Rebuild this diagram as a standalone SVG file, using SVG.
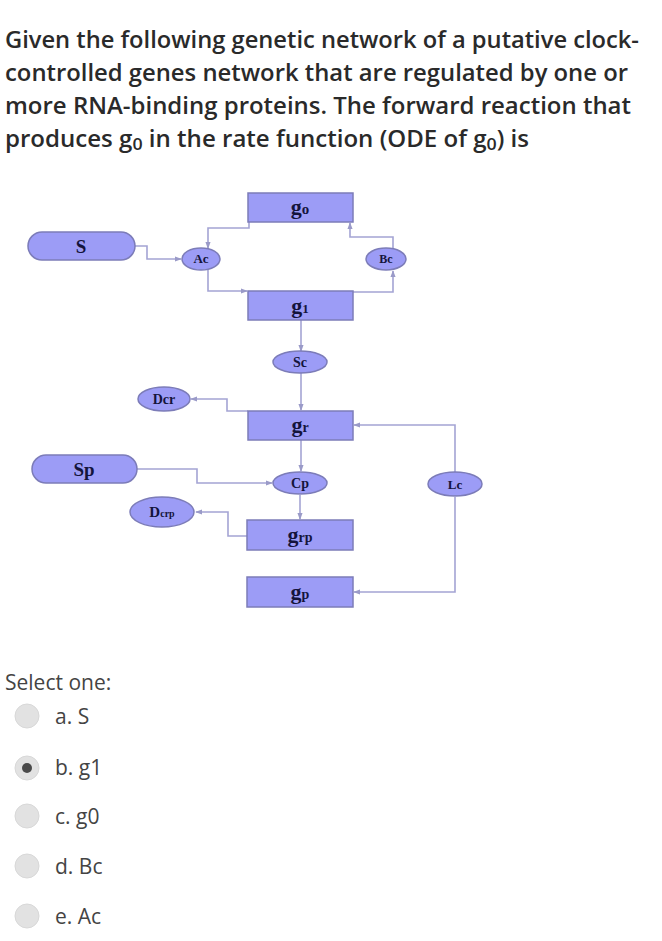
<svg xmlns="http://www.w3.org/2000/svg" width="662" height="941" viewBox="0 0 662 941">
<defs>
<marker id="ar" viewBox="0 0 8 8" refX="7" refY="4" markerWidth="7" markerHeight="7" orient="auto" markerUnits="userSpaceOnUse">
<path d="M0,1 L8,4 L0,7 z" fill="#9a9ac8"/>
</marker>
</defs>
<style>
.q{font-family:"Open Sans","Liberation Sans",sans-serif;font-size:23px;font-weight:600;fill:#2a2a2a}
.o{font-family:"Open Sans","Liberation Sans",sans-serif;font-size:21px;fill:#444}
.n{fill:#9c9cf6;stroke:#7c7cb8;stroke-width:1.5}
.t{font-family:"Liberation Serif","DejaVu Serif",serif;font-weight:bold;fill:#14143c;text-anchor:middle}
.c{fill:none;stroke:#a4a4d4;stroke-width:1.6}
.r{fill:#e2e2e2;stroke:#d8d8d8;stroke-width:1}
</style>
<rect width="662" height="941" fill="#fff"/>
<g id="question">
<text class="q" x="5" y="48" textLength="634" lengthAdjust="spacingAndGlyphs">Given the following genetic network of a putative clock-</text>
<text class="q" x="5" y="81" textLength="623" lengthAdjust="spacingAndGlyphs">controlled genes network that are regulated by one or</text>
<text class="q" x="5" y="114" textLength="626" lengthAdjust="spacingAndGlyphs">more RNA-binding proteins. The forward reaction that</text>
<text class="q" x="5" y="147" textLength="524" lengthAdjust="spacingAndGlyphs">produces g<tspan font-size="17" dy="3">0</tspan><tspan dy="-3"> in the rate function (ODE of g</tspan><tspan font-size="17" dy="3">0</tspan><tspan dy="-3">) is</tspan></text>
</g>
<g id="connectors">
<polyline class="c" points="135,246 147,246 147,259 181,259" marker-end="url(#ar)"/>
<polyline class="c" points="249,222 249,228 208,228 208,248" marker-end="url(#ar)"/>
<polyline class="c" points="208,270 208,291 247,291" marker-end="url(#ar)"/>
<polyline class="c" points="353,292 393,292 393,271" marker-end="url(#ar)"/>
<polyline class="c" points="393,248 393,237 350,237 350,223" marker-end="url(#ar)"/>
<polyline class="c" points="301,320 301,351" marker-end="url(#ar)"/>
<polyline class="c" points="301,373 301,410" marker-end="url(#ar)"/>
<polyline class="c" points="248,411 227,411 227,399 191,399" marker-end="url(#ar)"/>
<polyline class="c" points="455,472 455,425 354,425" marker-end="url(#ar)"/>
<polyline class="c" points="301,440 301,471" marker-end="url(#ar)"/>
<polyline class="c" points="137,469 197,469 197,483 272,483" marker-end="url(#ar)"/>
<polyline class="c" points="300,495 300,519" marker-end="url(#ar)"/>
<polyline class="c" points="247,536 228,536 228,512 196,512" marker-end="url(#ar)"/>
<polyline class="c" points="455,497 455,592 354,592" marker-end="url(#ar)"/>
</g>
<g id="g0"><rect class="n" x="248" y="193" width="105" height="29"/><text class="t" x="300" y="214" font-size="22">g<tspan font-size="15">o</tspan></text></g>
<g id="S"><rect class="n" x="28" y="232" width="107" height="28" rx="14"/><text class="t" x="81" y="253" font-size="19">S</text></g>
<g id="Ac"><ellipse class="n" cx="201" cy="259" rx="19" ry="11"/><text class="t" x="201" y="263" font-size="13">Ac</text></g>
<g id="Bc"><ellipse class="n" cx="386" cy="259" rx="20" ry="11"/><text class="t" x="386" y="263" font-size="12">Bc</text></g>
<g id="g1"><rect class="n" x="248" y="291" width="105" height="29"/><text class="t" x="300" y="313" font-size="22">g<tspan font-size="13">1</tspan></text></g>
<g id="Sc"><ellipse class="n" cx="300" cy="362" rx="27" ry="11"/><text class="t" x="300" y="367" font-size="14">Sc</text></g>
<g id="Dcr"><ellipse class="n" cx="164" cy="399" rx="26" ry="12"/><text class="t" x="164" y="404" font-size="14">Dcr</text></g>
<g id="gr"><rect class="n" x="248" y="411" width="105" height="29"/><text class="t" x="300" y="432" font-size="22">g<tspan font-size="14">r</tspan></text></g>
<g id="Sp"><rect class="n" x="32" y="455" width="105" height="28" rx="14"/><text class="t" x="84" y="476" font-size="19">Sp</text></g>
<g id="Cp"><ellipse class="n" cx="300" cy="483" rx="27" ry="11"/><text class="t" x="300" y="488" font-size="14">Cp</text></g>
<g id="Lc"><ellipse class="n" cx="455" cy="484" rx="27" ry="12"/><text class="t" x="455" y="489" font-size="13">Lc</text></g>
<g id="Dcrp"><ellipse class="n" cx="162" cy="512" rx="32" ry="15"/><text class="t" x="162" y="517" font-size="15">D<tspan font-size="10">crp</tspan></text></g>
<g id="grp"><rect class="n" x="247" y="520" width="106" height="30"/><text class="t" x="300" y="542" font-size="22">g<tspan font-size="14">rp</tspan></text></g>
<g id="gp"><rect class="n" x="247" y="577" width="106" height="30"/><text class="t" x="300" y="599" font-size="22">g<tspan font-size="14">p</tspan></text></g>
<g id="options">
<text class="o" x="5" y="690">Select one:</text>
<circle class="r" cx="27" cy="716" r="12"/><text class="o" x="55" y="724">a. S</text>
<circle class="r" cx="27" cy="768" r="12" fill="#d4d4d4"/><circle cx="27" cy="768" r="5" fill="#4a4a4a"/><text class="o" x="55" y="775">b. g1</text>
<circle class="r" cx="27" cy="816" r="12"/><text class="o" x="55" y="824">c. g0</text>
<circle class="r" cx="27" cy="866" r="12"/><text class="o" x="55" y="874">d. Bc</text>
<circle class="r" cx="27" cy="916" r="12"/><text class="o" x="55" y="924">e. Ac</text>
</g>
</svg>
